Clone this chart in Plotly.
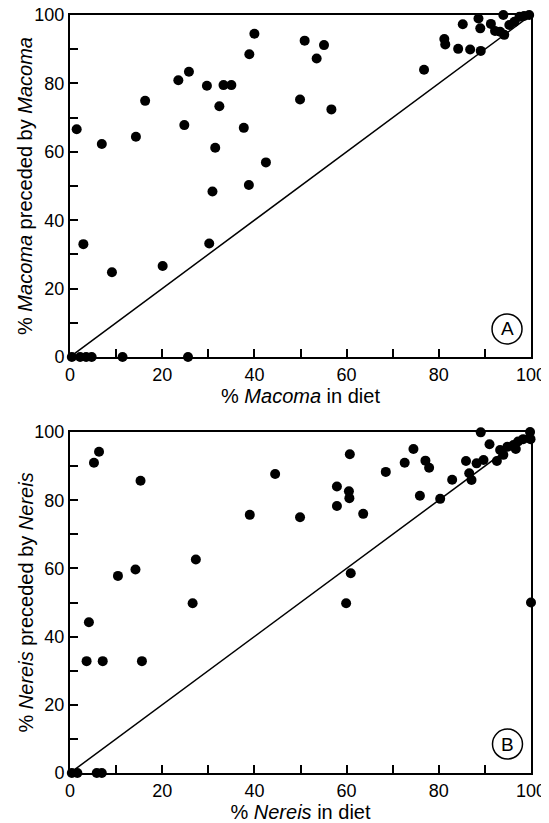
import plotly.graph_objects as go

# Panel A: Macoma
macoma_diet = [1.45, 6.9, 14.3, 16.3, 23.5, 25.8, 24.8, 29.7, 33.3, 35.0, 32.4, 31.5, 30.9, 37.7, 38.8,
               42.5, 38.9, 40.0, 50.9, 55.1, 53.5, 49.9, 56.7, 76.8, 81.2, 81.4, 84.2, 86.8, 89.1, 85.2,
               88.6, 89.0, 91.3, 92.2, 94.0, 94.2, 95.3, 96.4, 97.5, 98.5, 99.6, 93.3,
               2.9, 9.1, 20.1, 30.2, 0.4, 2.2, 3.5, 4.7, 11.4, 25.6]
macoma_prec = [66.6, 62.3, 64.4, 74.9, 80.9, 83.4, 67.8, 79.3, 79.5, 79.5, 73.3, 61.2, 48.4, 67.0, 50.3,
               56.9, 88.5, 94.5, 92.5, 91.2, 87.3, 75.3, 72.4, 84.0, 93.0, 91.4, 90.1, 89.9, 89.5, 97.3,
               99.0, 96.1, 97.4, 95.3, 100.0, 94.2, 97.1, 98.0, 99.5, 99.7, 100.0, 95.1,
               33.0, 24.8, 26.6, 33.2, 0, 0, 0, 0, 0, 0]

# Panel B: Nereis
nereis_diet = [5.2, 6.3, 15.3, 39.0, 44.5, 10.4, 14.2, 27.3, 26.6, 4.1, 3.6, 7.1, 15.6, 0.4, 1.6, 5.8, 6.9,
               49.9, 60.7, 57.9, 60.5, 60.6, 57.9, 63.6, 60.9, 59.9, 68.5, 72.6, 74.5, 77.1, 77.9, 75.9,
               80.3, 82.9, 85.9, 86.6, 87.1, 88.2, 89.7, 89.1, 91.0, 92.6, 93.3, 94.0, 94.9, 96.2, 97.2,
               98.3, 99.8, 99.9, 96.7, 100.0]
nereis_prec = [91.0, 94.2, 85.7, 75.7, 87.7, 57.8, 59.7, 62.6, 49.8, 44.2, 32.8, 32.8, 32.8, 0, 0, 0, 0,
               75.0, 93.5, 84.0, 82.6, 80.6, 78.3, 76.0, 58.6, 49.8, 88.3, 91.0, 95.0, 91.6, 89.5, 81.3,
               80.4, 86.0, 91.5, 87.9, 85.9, 90.8, 91.8, 99.9, 96.4, 91.5, 94.7, 93.3, 95.7, 96.2, 97.2,
               97.9, 100.0, 97.9, 95.0, 50.0]

diag = [0, 100]
tick_vals = [0, 10, 20, 30, 40, 50, 60, 70, 80, 90, 100]
tick_text = ["0", "", "20", "", "40", "", "60", "", "80", "", "100"]

FONT = "Liberation Sans, Arial, Helvetica, sans-serif"
W, H = 549, 823
OFF = 8  # page body margin

fig = go.Figure()

for xs, ys, xa, ya in [(macoma_diet, macoma_prec, "x", "y"), (nereis_diet, nereis_prec, "x2", "y2")]:
    fig.add_trace(go.Scatter(x=diag, y=diag, mode="lines", line=dict(color="black", width=1.5),
                             xaxis=xa, yaxis=ya, showlegend=False, hoverinfo="skip"))
    fig.add_trace(go.Scatter(x=xs, y=ys, mode="markers", marker=dict(color="black", size=10),
                             xaxis=xa, yaxis=ya, showlegend=False, cliponaxis=False))

ax_common = dict(range=[0, 100], tickmode="array", tickvals=tick_vals, ticktext=tick_text,
                 ticks="inside", ticklen=8, tickwidth=1.5, tickcolor="black",
                 showline=True, linecolor="black", linewidth=2, mirror=True,
                 showgrid=False, zeroline=False, automargin=False, ticklabeloverflow="allow",
                 tickfont=dict(family=FONT, size=18, color="black"))


def px_x(p):
    return (p - OFF) / W


def px_y(p):
    return 1 - (p - OFF) / H


xd = [px_x(70), px_x(531)]
yA = [px_y(357), px_y(15)]
yB = [px_y(773), px_y(432)]

fig.update_layout(
    template="none",
    width=W, height=H,
    margin=dict(l=0, r=0, t=0, b=0, autoexpand=False),
    paper_bgcolor="white", plot_bgcolor="white",
    font=dict(family=FONT, color="black"),
    xaxis=dict(domain=xd, anchor="y", **ax_common,
               title=dict(text="% <i>Macoma</i> in diet", font=dict(family=FONT, size=20), standoff=2)),
    yaxis=dict(domain=yA, anchor="x", **ax_common),
    xaxis2=dict(domain=xd, anchor="y2", **ax_common,
                title=dict(text="% <i>Nereis</i> in diet", font=dict(family=FONT, size=20), standoff=2)),
    yaxis2=dict(domain=yB, anchor="x2", **ax_common),
)

for text, yd in [("% <i>Macoma</i> preceded by <i>Macoma</i>", yA),
                 ("% <i>Nereis</i> preceded by <i>Nereis</i>", yB)]:
    fig.add_annotation(x=px_x(25), y=(yd[0] + yd[1]) / 2, xref="paper", yref="paper",
                       text=text, textangle=-90, showarrow=False, xanchor="center", yanchor="middle",
                       font=dict(family=FONT, size=20, color="black"))

for xr, yr, label, cx, cy in [("x", "y", "A", 94.8, 8.2), ("x2", "y2", "B", 94.9, 8.5)]:
    fig.add_shape(type="circle", xref=xr, yref=yr, xsizemode="pixel", ysizemode="pixel",
                  xanchor=cx, yanchor=cy, x0=-15, x1=15, y0=-15, y1=15,
                  line=dict(color="black", width=1.5))
    fig.add_annotation(x=cx, y=cy, xref=xr, yref=yr, text=label, showarrow=False,
                       font=dict(family=FONT, size=19, color="black"))

fig.write_html("out.html")
